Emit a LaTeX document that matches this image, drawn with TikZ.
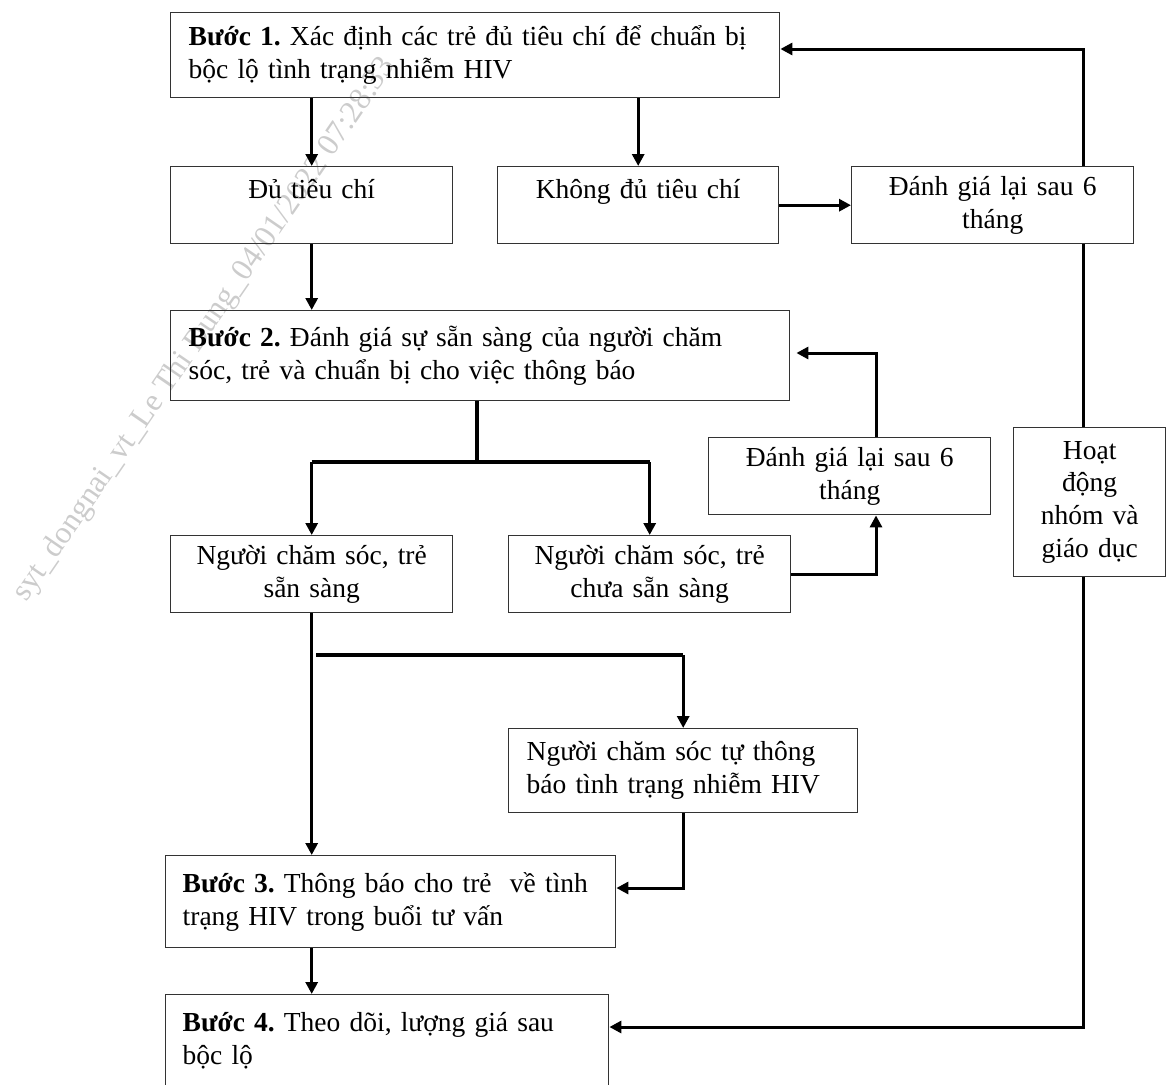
\documentclass[tikz,border=0pt]{standalone}
\usepackage{fontspec}
\setmainfont{Liberation Serif}
\usetikzlibrary{arrows.meta}
\frenchspacing

\begin{document}
\begin{tikzpicture}[
  x=1pt, y=-1pt,
  every node/.style={font=\fontsize{27.5}{32.7}\selectfont},
  khung/.style={draw=black!80, line width=1.4pt, anchor=north west, inner ysep=0pt},
  buoc/.style={khung, align=left, inner xsep=18pt},
  nhanh/.style={khung, align=center, inner xsep=6pt},
  muiten/.style={line width=3pt, -{Triangle[length=12pt,width=12pt]}},
  thanh/.style={line width=4pt}
  ]

\useasboundingbox (0,0) rectangle (1166,1084);
\clip (0,0) rectangle (1166,1084);

\node[rotate=55.5, text=gray!40, font=\fontsize{31.5}{34}\selectfont] (dau) at (205,330)
  {syt\_dongnai\_vt\_Le Thi Dung\_04/01/2022 07:28:33};

\node[buoc, text width=573pt, minimum height=85pt] (buoc1) at (170,12)
  {\textbf{Bước 1.} Xác định các trẻ đủ tiêu chí để chuẩn bị\\ bộc lộ tình trạng nhiễm HIV};
\node[nhanh, text width=270pt, minimum height=77pt] (du) at (170,166) {Đủ tiêu chí\\ \mbox{}};
\node[nhanh, text width=269pt, minimum height=77pt] (khong) at (497,166) {Không đủ tiêu chí\\ \mbox{}};
\node[nhanh, text width=270pt, minimum height=77pt] (lai1) at (851,166) {Đánh giá lại sau 6\\ tháng};

\node[buoc, text width=583pt, minimum height=90pt] (buoc2) at (170,310)
  {\textbf{Bước 2.} Đánh giá sự sẵn sàng của người chăm\\ sóc, trẻ và chuẩn bị cho việc thông báo};
\node[nhanh, text width=270pt, minimum height=77pt] (lai2) at (708,437) {Đánh giá lại sau 6\\ tháng};
\node[nhanh, text width=270pt, minimum height=77pt] (sansang) at (170,535) {Người chăm sóc, trẻ\\ sẵn sàng};
\node[nhanh, text width=270pt, minimum height=77pt] (chua) at (508,535) {Người chăm sóc, trẻ\\ chưa sẵn sàng};
\node[nhanh, text width=140pt, minimum height=149pt] (hoat) at (1013,427) {Hoạt\\ động\\ nhóm và\\ giáo dục};

\node[buoc, text width=313pt, minimum height=84pt] (tubao) at (508,728)
  {Người chăm sóc tự thông\\ báo tình trạng nhiễm HIV};
\node[buoc, text width=416pt, inner xsep=17pt, minimum height=92pt] (buoc3) at (165,855)
  {\textbf{Bước 3.} Thông báo cho trẻ~ về tình\\ trạng HIV trong buổi tư vấn};
\node[buoc, text width=409pt, inner xsep=17pt, minimum height=120pt] (buoc4) at (165,994)
  {\textbf{Bước 4.} Theo dõi, lượng giá sau\\ bộc lộ\\ \mbox{}};

% diem re
\coordinate (vongtren) at (1083,49);
\coordinate (vongduoi) at (1083,1027);
\coordinate (re2) at (477,462);
\coordinate (re3) at (876,575);
\coordinate (re4) at (876,353);
\coordinate (re5) at (316,655);
\coordinate (re6) at (686,888);

\draw[muiten] (buoc1.south -| du.north) -- (du.north);
\draw[muiten] (buoc1.south -| khong.north) -- (khong.north);
\draw[muiten] (du.south) -- (du.south |- buoc2.north);
\draw[muiten] (khong.east) -- (lai1.west);

% vong ben phai
\draw[muiten] (lai1.north -| vongtren) -- (vongtren) -- (buoc1.east |- vongtren);
\draw[line width=3pt] (lai1.south -| vongtren) -- (hoat.north -| vongtren);
\draw[muiten] (hoat.south -| vongduoi) -- (vongduoi) -- (buoc4.east |- vongduoi);

\draw[thanh] (buoc2.south -| re2) -- (re2);
\draw[thanh] (sansang.north |- re2) -- (chua.north |- re2);
\draw[muiten] (sansang.north |- re2) -- (sansang.north);
\draw[muiten] (chua.north |- re2) -- (chua.north);

\draw[muiten] (chua.east) -- (chua.east -| re3) -- (re3 |- lai2.south);
\draw[muiten, shorten >=6pt] (lai2.north -| re4) -- (re4) -- (buoc2.east |- re4);

\draw[muiten] (sansang.south) -- (sansang.south |- buoc3.north);
\draw[thanh] (re5) -- (re5 -| tubao.north);
\draw[muiten] (re5 -| tubao.north) -- (tubao.north);
\draw[muiten] (tubao.south) -- (tubao.south |- re6) -- (buoc3.east |- re6);
\draw[muiten] (buoc3.south -| sansang.south) -- (buoc4.north -| sansang.south);

\end{tikzpicture}
\end{document}
